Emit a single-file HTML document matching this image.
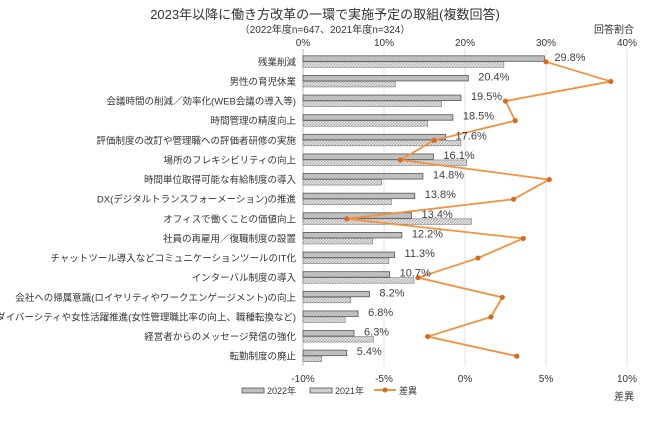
<!DOCTYPE html>
<html><head><meta charset="utf-8"><style>
body{margin:0;background:#fff;}
svg{display:block;font-family:"Liberation Sans","Noto Sans CJK JP",sans-serif;}
</style></head><body>
<svg id="c" width="650" height="430" viewBox="0 0 650 430">
<defs><pattern id="hatch" width="3" height="3" patternUnits="userSpaceOnUse"><rect width="3" height="3" fill="#e6e6e6"/><path d="M0,3 L3,0" stroke="#9a9a9a" stroke-width="0.7"/></pattern></defs>
<text x="325" y="19" text-anchor="middle" font-size="13" fill="#333">2023年以降に働き方改革の一環で実施予定の取組(複数回答)</text>
<text x="325" y="33" text-anchor="middle" font-size="10" fill="#333">（2022年度n=647、2021年度n=324）</text>
<text x="614" y="33" text-anchor="middle" font-size="10" fill="#333">回答割合</text>
<text x="624" y="400" text-anchor="middle" font-size="10" fill="#333">差異</text>
<g id="grid"></g><g id="bars"></g><g id="line"></g><g id="labels"></g>
<g>
<rect x="242" y="388" width="22" height="5" fill="#bfbfbf" stroke="#555" stroke-width="0.8"/>
<text x="267" y="394" font-size="9" fill="#333">2022年</text>
<rect x="310" y="388" width="22" height="5" fill="url(#hatch)" stroke="#555" stroke-width="0.8"/>
<text x="335" y="394" font-size="9" fill="#333">2021年</text>
<line x1="374" y1="390" x2="396" y2="390" stroke="#f4913c" stroke-width="2"/>
<circle cx="385" cy="390" r="2.5" fill="#d9691e"/>
<text x="399" y="394" font-size="9" fill="#333">差異</text>
</g>
</svg>
<script>
const categories=["残業削減","男性の育児休業","会議時間の削減／効率化(WEB会議の導入等)","時間管理の精度向上","評価制度の改訂や管理職への評価者研修の実施","場所のフレキシビリティの向上","時間単位取得可能な有給制度の導入","DX(デジタルトランスフォーメーション)の推進","オフィスで働くことの価値向上","社員の再雇用／復職制度の設置","チャットツール導入などコミュニケーションツールのIT化","インターバル制度の導入","会社への帰属意識(ロイヤリティやワークエンゲージメント)の向上","ダイバーシティや女性活躍推進(女性管理職比率の向上、職種転換など)","経営者からのメッセージ発信の強化","転勤制度の廃止"];
const values2022=[29.8,20.4,19.5,18.5,17.6,16.1,14.8,13.8,13.4,12.2,11.3,10.7,8.2,6.8,6.3,5.4];
const values2021=[24.8,11.4,17.1,15.4,19.5,20.2,9.7,10.9,20.8,8.6,10.6,13.7,5.9,5.2,8.7,2.3];
const diffs=[5.0,9.0,2.5,3.1,-1.9,-4.0,5.2,3.0,-7.3,3.6,0.8,-2.9,2.3,1.6,-2.3,3.2];
const topTicks=[0,10,20,30,40];
const bottomTicks=[-10,-5,0,5,10];
const NS="http://www.w3.org/2000/svg";
const L=303,R=627,T=52,B=366;
const xTop=v=>L+(v/40)*(R-L);
const xBot=v=>L+((v+10)/20)*(R-L);
const band=(B-T)/categories.length;
const yC=i=>T+band*(i+0.5);
function mk(tag,attrs,parent){const e=document.createElementNS(NS,tag);for(const k in attrs)e.setAttribute(k,attrs[k]);document.getElementById(parent).appendChild(e);return e;}
topTicks.forEach((t,i)=>{
 const g=mk('line',{x1:xTop(t),x2:xTop(t),y1:T-3,y2:B,stroke:i===0?'#bbb':'#e0e0e0','stroke-width':1},'grid');
 
 
 const tx=mk('text',{x:xTop(t),y:46,'text-anchor':'middle','font-size':10,fill:'#333'},'grid');tx.textContent=t+'%';
 
 
});
bottomTicks.forEach(t=>{
 const tx=mk('text',{x:xBot(t),y:382,'text-anchor':'middle','font-size':10,fill:'#333'},'grid');tx.textContent=t+'%';
 
 
});
categories.forEach((c,i)=>{
 const y=yC(i);
 const cl=mk('text',{x:296,y:y+3.5,'text-anchor':'end','font-size':9.5,fill:'#333'},'labels');cl.textContent=c;
 
 
 const b1=mk('rect',{x:L,y:y-6,width:xTop(values2022[i])-L,height:5.5,fill:'#bfbfbf',stroke:'#555','stroke-width':0.8},'bars');
 
 
 const b2=mk('rect',{x:L,y:y,width:xTop(values2021[i])-L,height:5.5,fill:'url(#hatch)',stroke:'#777','stroke-width':0.6},'bars');
 
 
 const vl=mk('text',{x:xTop(values2022[i])+10,y:y-1,'font-size':11,fill:'#404040'},'labels');vl.textContent=values2022[i].toFixed(1)+'%';
 
 
});
const pts=diffs.map((d,i)=>xBot(d)+','+yC(i)).join(' ');
const pl=mk('polyline',{points:pts,fill:'none',stroke:'#f4913c','stroke-width':1.8},'line');


diffs.forEach((d,i)=>{
 const p=mk('circle',{cx:xBot(d),cy:yC(i),r:2.6,fill:'#d9691e'},'line');
 
 
});
</script>
</body></html>
